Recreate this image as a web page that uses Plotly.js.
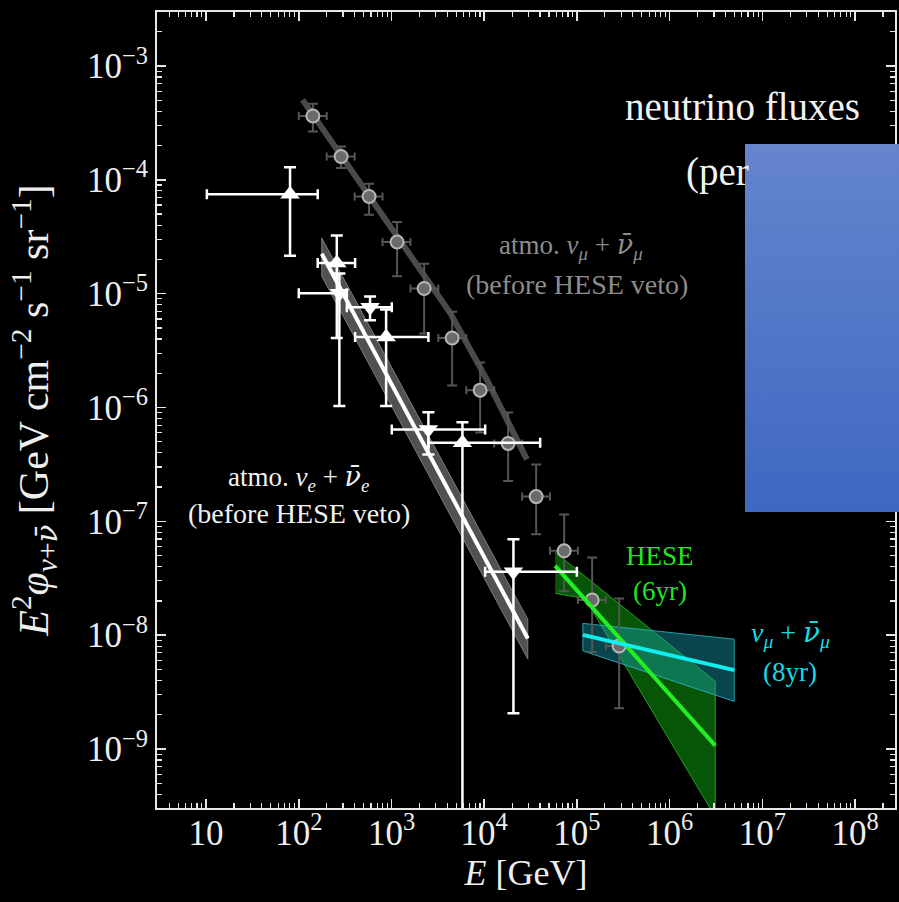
<!DOCTYPE html>
<html><head><meta charset="utf-8">
<script src="https://cdn.plot.ly/plotly-3.0.1.min.js"></script>
<style>html,body{margin:0;padding:0;background:#000;} #chart{width:899px;height:902px;}</style>
</head><body><div id="chart"></div>
<script>
// ---------- data ----------
// atmospheric nu_mu + nubar_mu data (gray circles)
const numuE     = [142, 286, 573, 1148, 2249, 4508, 9036, 18110, 36310, 72780, 145900, 285100];
const numuElo   = [100, 200, 400, 800, 1600, 3200, 6400, 12800, 25600, 51200, 102400, 204800];
const numuEhi   = [200, 400, 800, 1600, 3200, 6400, 12800, 25600, 51200, 102400, 204800, 409600];
const numuFlux  = [3.64e-4, 1.60e-4, 7.14e-5, 2.84e-5, 1.11e-5, 4.08e-6, 1.42e-6, 4.83e-7, 1.65e-7, 5.51e-8, 2.04e-8, 8.05e-9];
const numuHi    = [4.65e-4, 1.96e-4, 9.23e-5, 4.26e-5, 1.83e-5, 6.95e-6, 2.48e-6, 9.04e-7, 3.16e-7, 1.15e-7, 4.81e-8, 2.10e-8];
const numuLo    = [2.65e-4, 1.27e-4, 4.93e-5, 1.42e-5, 4.47e-6, 1.56e-6, 6.04e-7, 2.26e-7, 7.69e-8, 2.43e-8, 7.10e-9, 2.28e-9];

// atmospheric nu_e data, up-triangles
const nueUpE    = [80.5, 257, 875, 5820];
const nueUpElo  = [10.2, 160, 405, 2500];
const nueUpEhi  = [160, 405, 2500, 40100];
const nueUpFlux = [7.48e-5, 1.86e-5, 4.17e-6, 4.90e-7];
const nueUpHi   = [1.29e-4, 3.24e-5, 7.24e-6, 7.43e-7];
const nueUpLo   = [2.15e-5, 4.08e-6, 1.03e-6, 1e-11];

// atmospheric nu_e data, down-triangles
const nueDnE    = [274, 587, 2500, 20650];
const nueDnElo  = [100, 330, 1007, 10230];
const nueDnEhi  = [330, 1007, 10230, 99800];
const nueDnFlux = [1.01e-5, 7.59e-6, 6.41e-7, 3.60e-8];
const nueDnHi   = [1.50e-5, 9.46e-6, 9.10e-7, 6.95e-8];
const nueDnLo   = [1.03e-6, 5.83e-6, 3.87e-7, 2.06e-9];

// model curves
const numuModelE    = [110, 682, 4285, 10670, 28840];
const numuModelFlux = [5.04e-4, 5.92e-5, 6.78e-6, 1.76e-6, 3.50e-7];
const nueModelE     = [177, 29500];
const nueModelFlux  = [2.24e-5, 9.35e-9];
const nueBandHi     = [3.08e-5, 1.38e-8];
const nueBandLo     = [1.42e-5, 6.17e-9];

// HESE 6yr fit
const heseE         = [58200, 3.10e6];
const heseFlux      = [4.06e-8, 1.07e-9];
const heseBandE     = [58200, 3.10e6, 3.10e6, 122500, 58200];
const heseBandFlux  = [5.35e-8, 3.94e-9, 2.54e-10, 2.10e-8, 2.33e-8];

// nu_mu 8yr fit
const numu8E        = [115900, 4.97e6];
const numu8Flux     = [1.007e-8, 4.93e-9];
const numu8BandHi   = [1.27e-8, 9.23e-9];
const numu8BandLo   = [7.28e-9, 2.62e-9];

// ticks
const xTickVals = [10, 1e2, 1e3, 1e4, 1e5, 1e6, 1e7, 1e8];
const xTickText = ['10', '10<sup>2</sup>', '10<sup>3</sup>', '10<sup>4</sup>', '10<sup>5</sup>', '10<sup>6</sup>', '10<sup>7</sup>', '10<sup>8</sup>'];
const yTickVals = [1e-9, 1e-8, 1e-7, 1e-6, 1e-5, 1e-4, 1e-3];
const yTickText = ['10<sup>−9</sup>', '10<sup>−8</sup>', '10<sup>−7</sup>', '10<sup>−6</sup>', '10<sup>−5</sup>', '10<sup>−4</sup>', '10<sup>−3</sup>'];

// ---------- helpers ----------
const plus  = (hi, v) => hi.map((h, i) => h - v[i]);
const minus = (lo, v) => lo.map((l, i) => v[i] - l);
const band  = (xs, hi, lo) => ({x: [xs[0], xs[1], xs[1], xs[0], xs[0]], y: [hi[0], hi[1], lo[1], lo[0], hi[0]]});

const FONT = 'Liberation Serif, Times New Roman, serif';

const nb = band(nueModelE, nueBandHi, nueBandLo);
const cb = band(numu8E, numu8BandHi, numu8BandLo);

const traces = [
  {x: numuModelE, y: numuModelFlux, mode: 'lines', line: {color: '#4a4a4a', width: 6}, hoverinfo: 'skip'},
  {x: nb.x, y: nb.y, mode: 'lines', fill: 'toself', fillcolor: 'rgba(88,88,88,0.92)', line: {color: '#7c7c7c', width: 1}},
  {x: nueModelE, y: nueModelFlux, mode: 'lines', line: {color: '#ffffff', width: 4}},
  {x: heseBandE, y: heseBandFlux, mode: 'lines', fill: 'toself', fillcolor: 'rgba(15,190,15,0.45)', line: {color: 'rgba(40,180,40,0.85)', width: 1}},
  {x: cb.x, y: cb.y, mode: 'lines', fill: 'toself', fillcolor: 'rgba(25,165,185,0.42)', line: {color: 'rgba(40,180,195,0.85)', width: 1}},
  {x: numuE, y: numuFlux, mode: 'markers',
    marker: {symbol: 'circle', size: 13, color: '#6a6a6a', line: {color: '#b5b5b5', width: 2}},
    error_x: {type: 'data', symmetric: false, array: plus(numuEhi, numuE), arrayminus: minus(numuElo, numuE), color: '#555555', thickness: 2, width: 4},
    error_y: {type: 'data', symmetric: false, array: plus(numuHi, numuFlux), arrayminus: minus(numuLo, numuFlux), color: '#555555', thickness: 2, width: 5}},
  {x: heseE, y: heseFlux, mode: 'lines', line: {color: '#22ee22', width: 4}},
  {x: numu8E, y: numu8Flux, mode: 'lines', line: {color: '#10eef0', width: 4}},
  {x: nueUpE, y: nueUpFlux, mode: 'markers',
    marker: {symbol: 'triangle-up', size: 17, color: '#ffffff'},
    error_x: {type: 'data', symmetric: false, array: plus(nueUpEhi, nueUpE), arrayminus: minus(nueUpElo, nueUpE), color: '#ffffff', thickness: 2.5, width: 5},
    error_y: {type: 'data', symmetric: false, array: plus(nueUpHi, nueUpFlux), arrayminus: minus(nueUpLo, nueUpFlux), color: '#ffffff', thickness: 2.5, width: 6}},
  {x: nueDnE, y: nueDnFlux, mode: 'markers',
    marker: {symbol: 'triangle-down', size: 17, color: '#ffffff'},
    error_x: {type: 'data', symmetric: false, array: plus(nueDnEhi, nueDnE), arrayminus: minus(nueDnElo, nueDnE), color: '#ffffff', thickness: 2.5, width: 5},
    error_y: {type: 'data', symmetric: false, array: plus(nueDnHi, nueDnFlux), arrayminus: minus(nueDnLo, nueDnFlux), color: '#ffffff', thickness: 2.5, width: 6}}
];

// pixel -> paper helpers for text placement
const L = 157, R = 895, T = 12, B = 808;
const px = v => (v - L) / (R - L);
const py = v => (B - v) / (B - T);

function ann(text, x, y, color, size, xanchor) {
  return {text: text, x: px(x), y: py(y), xref: 'paper', yref: 'paper', showarrow: false,
    xanchor: xanchor || 'center', yanchor: 'middle', font: {family: FONT, size: size, color: color}};
}

const bar = s => "<span style=\"font-family:'DejaVu Serif';font-style:italic\">" + s + '̄</span>';
const nuMu = '<i>ν<sub>μ</sub></i> + ' + bar('ν') + '<i><sub>μ</sub></i>';
const nuE  = '<i>ν<sub>e</sub></i> + ' + bar('ν') + '<i><sub>e</sub></i>';

const annotations = [
  ann('neutrino fluxes', 742, 106, '#f2f2f2', 39),
  ann('(per', 684, 172, '#f2f2f2', 39, 'left'),
  ann('atmo. ' + nuMu, 571, 246, '#8c8c8c', 27),
  ann('(before HESE veto)', 577, 284, '#8c8c8c', 28),
  ann('atmo. ' + nuE, 298, 478, '#f2f2f2', 27),
  ann('(before HESE veto)', 299, 513, '#f2f2f2', 28),
  ann('HESE', 660, 556, '#22e622', 27),
  ann('(6yr)', 660, 591, '#22e622', 27),
  ann(nuMu, 790, 634, '#18d8e6', 28),
  ann('(8yr)', 790, 672, '#18d8e6', 27)
];

const boxSvg = "<svg xmlns='http://www.w3.org/2000/svg' viewBox='0 0 100 100' preserveAspectRatio='none' width='100' height='100'>" +
  "<defs><linearGradient id='g' x1='0' y1='0' x2='0' y2='1'><stop offset='0' stop-color='#6585cd'/><stop offset='1' stop-color='#3d68c1'/></linearGradient></defs>" +
  "<rect x='0' y='0' width='100' height='100' fill='url(#g)'/></svg>";

const axisCommon = {
  type: 'log', showline: true, linecolor: '#e6e6e6', linewidth: 2, mirror: 'allticks',
  ticks: 'inside', ticklen: 9, tickwidth: 1.5, tickcolor: '#e6e6e6',
  showgrid: false, zeroline: false, tickmode: 'array',
  tickfont: {family: FONT, size: 35, color: '#eeeeee'},
  minor: {ticks: 'inside', ticklen: 5, tickwidth: 1.2, tickcolor: '#e6e6e6', dtick: 'D1', showgrid: false}
};

const yTitle = '<i>E</i><sup>2</sup><i>φ</i><sub><i>ν</i>+' + bar('ν') + '</sub> [GeV cm<sup>−2</sup> s<sup>−1</sup> sr<sup>−1</sup>]';

const layout = {
  width: 899, height: 902,
  paper_bgcolor: '#000', plot_bgcolor: '#000',
  showlegend: false,
  margin: {l: L, r: 899 - R, t: T, b: 902 - B},
  xaxis: Object.assign({}, axisCommon, {
    range: [0.471, 8.43], tickvals: xTickVals, ticktext: xTickText,
    ticklabelstandoff: -7,
    title: {text: '<i>E</i> [GeV]', font: {family: FONT, size: 36, color: '#eeeeee'}, standoff: 6},
    automargin: false
  }),
  yaxis: Object.assign({}, axisCommon, {
    range: [-9.518, -2.526], tickvals: yTickVals, ticktext: yTickText,
    title: {text: yTitle, font: {family: FONT, size: 42, color: '#eeeeee'}, standoff: 25},
    automargin: false
  }),
  annotations: annotations,
  images: [{
    source: 'data:image/svg+xml;charset=utf-8,' + encodeURIComponent(boxSvg),
    xref: 'paper', yref: 'paper', x: px(745), y: py(144), sizex: px(905) - px(745), sizey: py(144) - py(512),
    xanchor: 'left', yanchor: 'top', sizing: 'stretch', layer: 'above'
  }]
};

Plotly.newPlot('chart', traces, layout, {displayModeBar: false, staticPlot: true});
</script>
</body></html>
